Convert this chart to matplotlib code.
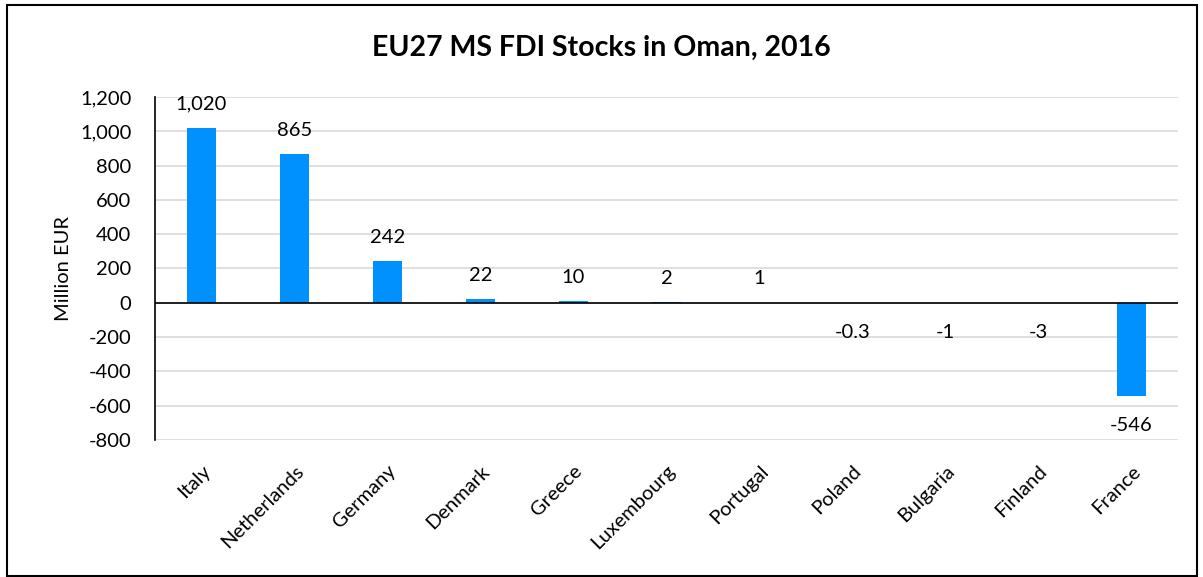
import matplotlib
matplotlib.use("Agg")
import matplotlib.pyplot as plt
from matplotlib.patches import Rectangle

countries = ["Italy", "Netherlands", "Germany", "Denmark", "Greece", "Luxembourg",
             "Portugal", "Poland", "Bulgaria", "Finland", "France"]
values = [1020, 865, 242, 22, 10, 2, 1, -0.3, -1, -3, -546]
value_labels = ["1,020", "865", "242", "22", "10", "2", "1", "-0.3", "-1", "-3", "-546"]
yticks = [-800, -600, -400, -200, 0, 200, 400, 600, 800, 1000, 1200]

plt.rcParams['font.family'] = ['Lato', 'DejaVu Sans']

W, H = 1203, 577
fig = plt.figure(figsize=(W / 100, H / 100), dpi=100)
ax = fig.add_axes([155 / W, 1 - 440 / H, (1178 - 155) / W, (440 - 97) / H])

bar_color = "#0091FF"
x = list(range(len(countries)))
ax.bar(x, values, width=0.31, color=bar_color, zorder=3)

FS = 14.5
ax.set_xlim(-0.5, len(countries) - 0.5)
ax.set_ylim(-800, 1200)
ax.set_yticks(yticks)
ax.set_yticklabels([f"{v:,}" for v in yticks], fontsize=FS)
ax.yaxis.grid(True, color="#D9D9D9", linewidth=1.2, zorder=0)
ax.set_axisbelow(True)
ax.axhline(0, color="black", linewidth=1.2, zorder=4)
ax.tick_params(axis="both", length=0)
ax.tick_params(axis="y", pad=17)

for s in ["top", "right", "bottom"]:
    ax.spines[s].set_visible(False)
ax.spines["left"].set_color("black")
ax.spines["left"].set_linewidth(1.2)

ax.set_xticks(x)
ax.set_xticklabels(countries, rotation=45, ha="right", rotation_mode="anchor", fontsize=FS)
ax.tick_params(axis="x", pad=16)

for xi, v, lab in zip(x, values, value_labels):
    if v >= 0:
        ax.annotate(lab, (xi, v), xytext=(0, 11), textcoords="offset points",
                    ha="center", va="bottom", fontsize=FS)
    else:
        ax.annotate(lab, (xi, v), xytext=(0, -15), textcoords="offset points",
                    ha="center", va="top", fontsize=FS)

ax.set_ylabel("Million EUR", fontsize=14.5)
ax.yaxis.set_label_coords(-83 / (1178 - 155), 0.5)

fig.text(0.5, 1 - 48 / H, "EU27 MS FDI Stocks in Oman, 2016", ha="center", va="center",
         fontsize=20.5, fontweight="bold")

fig.patches.append(Rectangle((7 / W, 1 / H), (1197 - 7) / W, (H - 6) / H,
                             transform=fig.transFigure, fill=False,
                             edgecolor="black", linewidth=1.5))

fig.savefig("out.png", dpi=100)
